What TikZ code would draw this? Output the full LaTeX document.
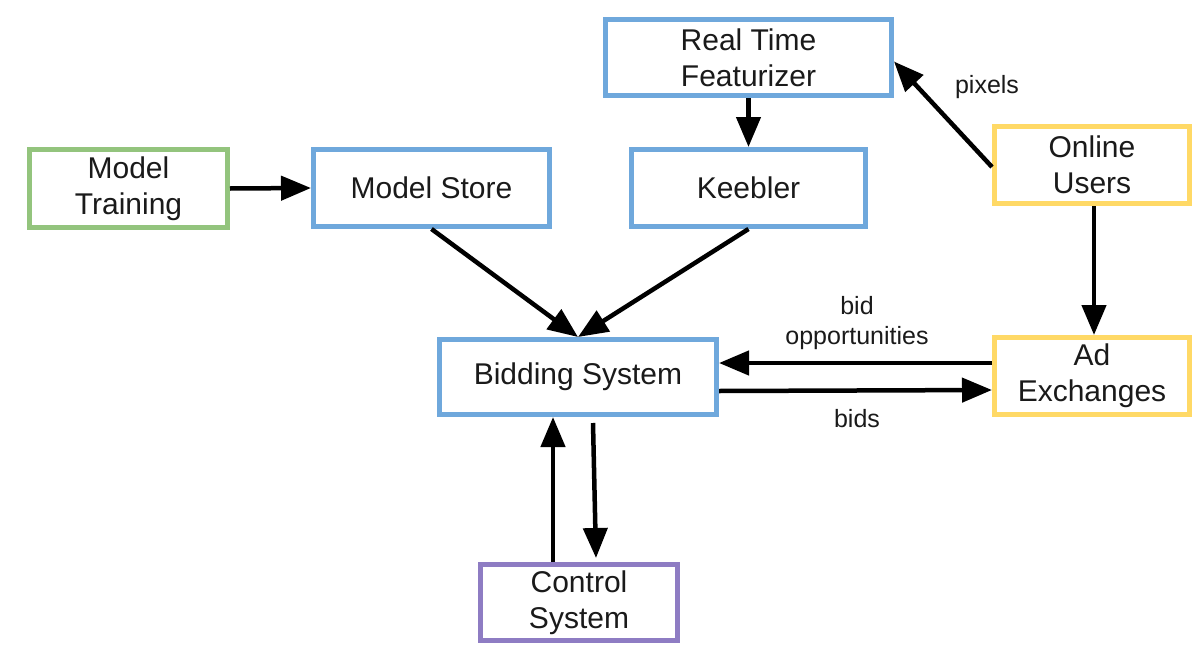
\documentclass[tikz,border=0pt]{standalone}
\usepackage{fontspec}
\setmainfont{Liberation Sans}
\usetikzlibrary{arrows.meta}
\definecolor{cblue}{HTML}{6FA8DC}
\definecolor{cgreen}{HTML}{93C47D}
\definecolor{cyellow}{HTML}{FFD966}
\definecolor{cpurple}{HTML}{8E7CC3}
\definecolor{ctext}{HTML}{1A1A1A}
\tikzset{
  box/.style={draw=#1, line width=5pt, fill=white, align=center, inner sep=0pt,
    font=\fontsize{30}{36}\selectfont, text=ctext},
  conn/.style={line width=4.5pt, draw=black, -{Triangle[length=30pt,width=24pt]}},
  lbl/.style={font=\fontsize{25}{30}\selectfont, align=center, text=ctext}
}
\begin{document}
\begin{tikzpicture}[x=1pt,y=-1pt]
\useasboundingbox (0,0) rectangle (1200,656);
\node[box=cblue, minimum width=286pt, minimum height=76pt] (rtf) at (748.5,57.5) {Real Time\\Featurizer};
\node[box=cgreen, minimum width=198pt, minimum height=78pt] (mt) at (128.5,188.5) {Model\\Training};
\node[box=cblue, minimum width=236pt, minimum height=77pt] (ms) at (431.5,188) {Model Store};
\node[box=cblue, minimum width=234pt, minimum height=77pt] (kb) at (748.5,188) {Keebler};
\node[box=cyellow, minimum width=195pt, minimum height=77pt] (ou) at (1092,165) {Online\\Users};
\node[box=cblue, minimum width=277pt, minimum height=75pt] (bs) at (578,377) {Bidding System};
\node[box=cyellow, minimum width=195pt, minimum height=77pt] (ax) at (1092,376) {Ad\\Exchanges};
\node[box=cpurple, minimum width=197pt, minimum height=76pt] (cs) at (579,602.5) {Control\\System};

\draw[conn] (mt.east) -- (ms.west);
\draw[conn] (rtf.south) -- (kb.north);
\draw[conn] (ms.south) -- (bs.north);
\draw[conn] (kb.south) -- (bs.north);
\draw[conn] ([yshift=-2pt]ou.west) -- ([yshift=-4pt]rtf.east);
\draw[conn] ([xshift=2pt]ou.south) -- ([xshift=2pt]ax.north);
\draw[conn] ([yshift=13pt]ax.west) -- ([yshift=14pt]bs.east);
\draw[conn] ([yshift=-14pt]bs.east) -- ([yshift=-14pt]ax.west);
\draw[conn] ([xshift=-26pt]cs.north) -- ([xshift=-25pt]bs.south);
\draw[conn] ([xshift=15pt,yshift=-6pt]bs.south) -- ([xshift=17pt,yshift=4pt]cs.north);

\node[lbl] (lpix) at (987,87) {pixels};
\node[lbl] (lbo) at (857,323) {bid\\opportunities};
\node[lbl] (lbids) at (857,419) {bids};
\end{tikzpicture}
\end{document}
